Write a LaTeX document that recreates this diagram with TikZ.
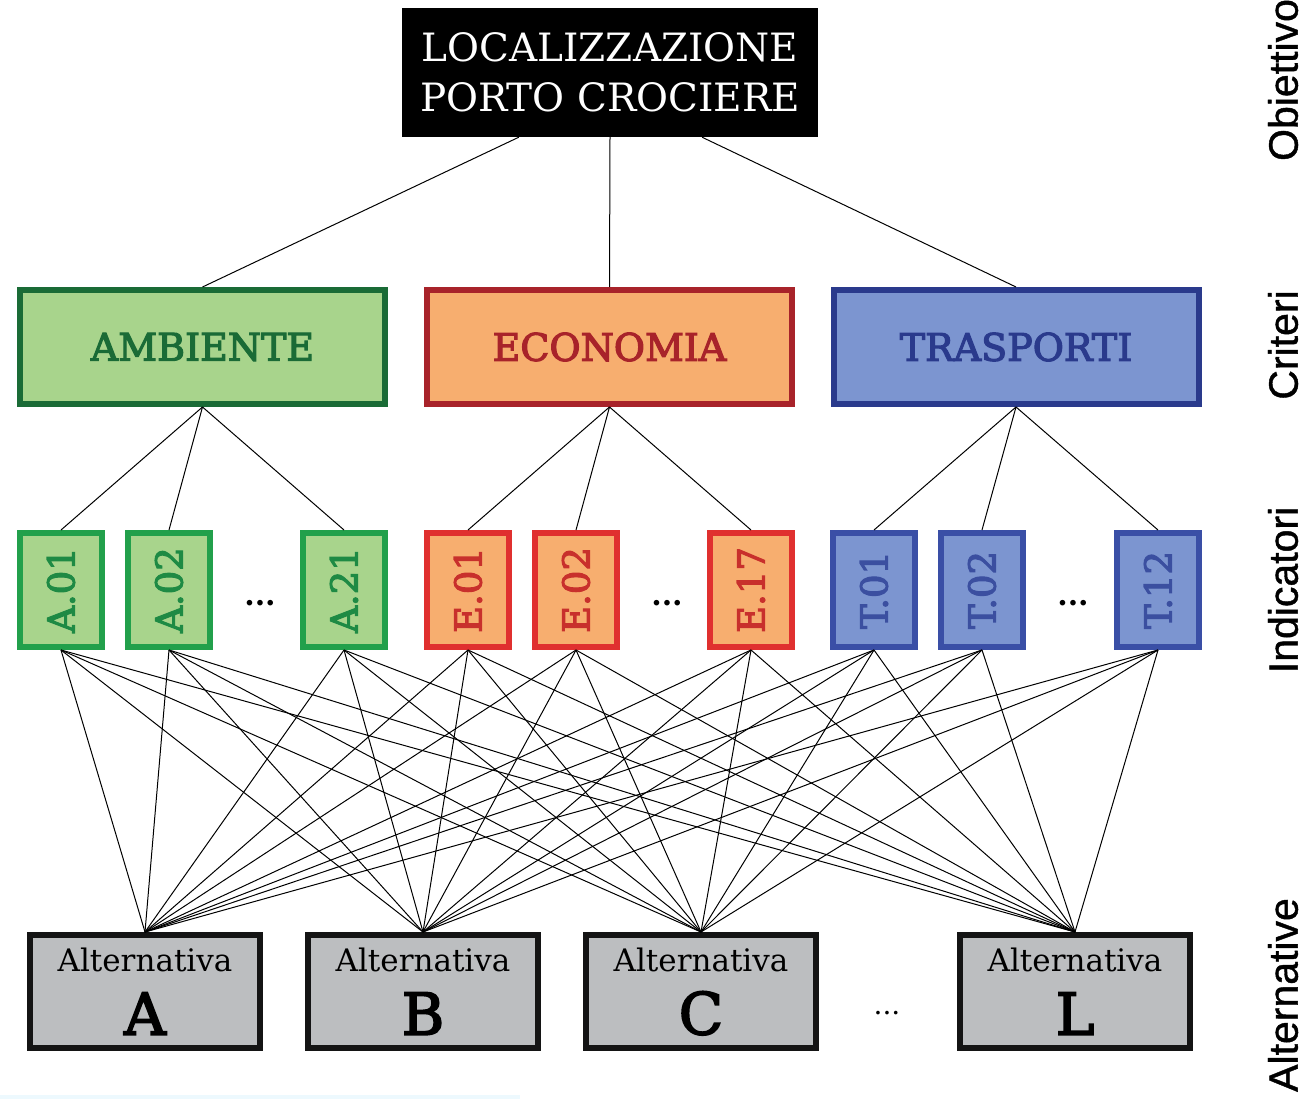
\documentclass[tikz,border=0pt]{standalone}
\usepackage{fontspec}
\setmainfont{DejaVu Serif}
\newfontfamily\medfont{DejaVu Serif}[FakeBold=3]
\newfontfamily\livellofont{Liberation Sans}[FakeBold=1]
\usetikzlibrary{calc}

\definecolor{ambfill}{HTML}{A8D48C}
\definecolor{ambdraw}{HTML}{1A6B36}
\definecolor{ambind}{HTML}{22A04B}
\definecolor{ambtext}{HTML}{1E8A44}
\definecolor{ecofill}{HTML}{F7AE6F}
\definecolor{ecodraw}{HTML}{A8232A}
\definecolor{ecoind}{HTML}{E0302F}
\definecolor{ecotext}{HTML}{C8302C}
\definecolor{trafill}{HTML}{7C95D0}
\definecolor{tradraw}{HTML}{2A3A8C}
\definecolor{traind}{HTML}{3A4FA6}
\definecolor{tratext}{HTML}{3B4FA0}
\definecolor{altfill}{HTML}{BCBEC0}
\definecolor{altdraw}{HTML}{141414}

\tikzset{
  obiettivo/.style={fill=black, text=white, minimum width=416pt, minimum height=129pt,
    inner sep=0pt, align=center, font=\fontsize{39}{50}\selectfont},
  criterio/.style={draw, line width=6pt, minimum width=365pt, minimum height=114pt,
    inner sep=0pt, font=\medfont\fontsize{38}{38}\selectfont},
  indicatore/.style={draw, line width=6pt, minimum width=82pt, minimum height=114pt,
    inner sep=0pt, font=\medfont\fontsize{37}{37}\selectfont},
  alternativa/.style={draw=altdraw, fill=altfill, line width=6pt, minimum width=230pt,
    minimum height=113pt, inner sep=0pt, align=center, font=\fontsize{31}{63}\selectfont},
  livello/.style={rotate=90, inner sep=0pt, font=\livellofont\fontsize{41}{41}\selectfont},
  puntini/.style={inner sep=0pt, font=\bfseries\fontsize{30}{30}\selectfont},
  link/.style={line width=1pt}
}

\begin{document}
\begin{tikzpicture}[x=1pt,y=-1pt]

\useasboundingbox (0,0) rectangle (1301,1099);
\fill [cyan!7] (0,1095) rectangle (520,1099);

% obiettivo
\node [obiettivo] (porto) at (610,72.5) {LOCALIZZAZIONE\\PORTO CROCIERE};

% criteri
\node [criterio,draw=ambdraw,fill=ambfill,text=ambdraw] (amb) at (202.5,347) {AMBIENTE};
\node [criterio,draw=ecodraw,fill=ecofill,text=ecodraw] (eco) at (609.5,347) {ECONOMIA};
\node [criterio,draw=tradraw,fill=trafill,text=tradraw] (tra) at (1016,347) {TRASPORTI};

% indicatori
\begin{scope}[every node/.append style={indicatore}]
	\node [draw=ambind,fill=ambfill,text=ambtext] (a01) at (61,590) {\rotatebox{90}{A.01}};
	\node [draw=ambind,fill=ambfill,text=ambtext] (a02) at (169,590) {\rotatebox{90}{A.02}};
	\node [draw=ambind,fill=ambfill,text=ambtext] (a21) at (344,590) {\rotatebox{90}{A.21}};
	\node [draw=ecoind,fill=ecofill,text=ecotext] (e01) at (468,590) {\rotatebox{90}{E.01}};
	\node [draw=ecoind,fill=ecofill,text=ecotext] (e02) at (576,590) {\rotatebox{90}{E.02}};
	\node [draw=ecoind,fill=ecofill,text=ecotext] (e17) at (751,590) {\rotatebox{90}{E.17}};
	\node [draw=traind,fill=trafill,text=tratext] (t01) at (874,590) {\rotatebox{90}{T.01}};
	\node [draw=traind,fill=trafill,text=tratext] (t02) at (982,590) {\rotatebox{90}{T.02}};
	\node [draw=traind,fill=trafill,text=tratext] (t12) at (1158,590) {\rotatebox{90}{T.12}};
\end{scope}
\node [puntini] (dotsA) at (260,603) {...};
\node [puntini] (dotsE) at (667,603) {...};
\node [puntini] (dotsT) at (1073,603) {...};

% alternative
\node [alternativa] (altA) at (145,991.5) {Alternativa\\{\medfont\fontsize{58}{63}\selectfont A}};
\node [alternativa] (altB) at (423,991.5) {Alternativa\\{\medfont\fontsize{58}{63}\selectfont B}};
\node [alternativa] (altC) at (701,991.5) {Alternativa\\{\medfont\fontsize{58}{63}\selectfont C}};
\node [alternativa] (altL) at (1075,991.5) {Alternativa\\{\medfont\fontsize{58}{63}\selectfont L}};
\node [inner sep=0pt,font=\fontsize{28}{28}\selectfont] (dotsAlt) at (887,1013) {...};

% livelli
\node [livello] (lobi) at (1283,80) {Obiettivo};
\node [livello] (lcri) at (1283,345) {Criteri};
\node [livello] (lind) at (1283,590) {Indicatori};
\node [livello] (lalt) at (1283,995) {Alternative};

% collegamenti
\draw [link] ($(porto.south west)!0.281!(porto.south east)$) -- (amb.north);
\draw [link] (porto.south) -- (eco.north);
\draw [link] ($(porto.south west)!0.721!(porto.south east)$) -- (tra.north);

\foreach \i in {a01,a02,a21}
	\draw [link] (amb.south) -- (\i.north);
\foreach \i in {e01,e02,e17}
	\draw [link] (eco.south) -- (\i.north);
\foreach \i in {t01,t02,t12}
	\draw [link] (tra.south) -- (\i.north);

\foreach \i in {a01,a02,a21,e01,e02,e17,t01,t02,t12}
	\foreach \j in {altA,altB,altC,altL}
		\draw [link] (\i.south) -- (\j.north);

\end{tikzpicture}
\end{document}
